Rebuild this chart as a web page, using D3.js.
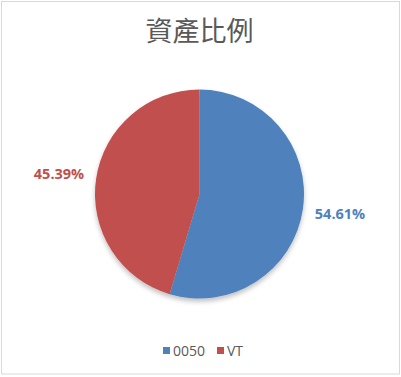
<!DOCTYPE html>
<html>
<head>
<meta charset="utf-8">
<script src="https://cdn.jsdelivr.net/npm/d3@7"></script>
<style>
  body { margin: 0; background: #fff; }
</style>
</head>
<body>
<div id="chart"></div>
<script>
// data
var categories = ["0050", "VT"];
var values = [54.61, 45.39];
var colors = ["#4F81BD", "#C0504D"];
var title = "資產比例";

var width = 401, height = 377;
var cx = 199.5, cy = 194, r = 104.5;

var svg = d3.select("#chart").append("svg")
  .attr("width", width)
  .attr("height", height);

// chart area border
svg.append("rect")
  .attr("x", 1.5).attr("y", 1.5)
  .attr("width", 398).attr("height", 372.5)
  .attr("fill", "#fff")
  .attr("stroke", "#d9d9d9");

// soft shadow like excel
var defs = svg.append("defs");
var f = defs.append("filter").attr("id", "shadow")
  .attr("x", "-20%").attr("y", "-20%").attr("width", "140%").attr("height", "140%");
f.append("feGaussianBlur").attr("in", "SourceAlpha").attr("stdDeviation", 2.5);
f.append("feOffset").attr("dx", 0).attr("dy", 2.5).attr("result", "blur");
f.append("feComponentTransfer").append("feFuncA").attr("type", "linear").attr("slope", 0.25);
var m = f.append("feMerge");
m.append("feMergeNode");
m.append("feMergeNode").attr("in", "SourceGraphic");

svg.append("text")
  .attr("x", 199.5).attr("y", 41)
  .attr("text-anchor", "middle")
  .attr("font-family", "'Noto Sans CJK TC', sans-serif")
  .attr("font-size", 27)
  .attr("fill", "#595959")
  .text(title);

var pie = d3.pie().sort(null).value(function(d){ return d; });
var arcs = pie(values);
var arc = d3.arc().innerRadius(0).outerRadius(r);
var labelArc = d3.arc().innerRadius(142).outerRadius(142);

var g = svg.append("g").attr("transform", "translate(" + cx + "," + cy + ")");

g.append("g").attr("filter", "url(#shadow)")
  .selectAll("path")
  .data(arcs)
  .enter()
  .append("path")
  .attr("d", arc)
  .attr("fill", function(d, i){ return colors[i]; });

g.selectAll("text.lbl")
  .data(arcs)
  .enter()
  .append("text")
  .attr("class", "lbl")
  .attr("transform", function(d){ var c = labelArc.centroid(d); return "translate(" + c[0] + "," + (c[1] + 5) + ")"; })
  .attr("text-anchor", "middle")
  .attr("font-family", "'Open Sans', sans-serif")
  .attr("font-weight", "bold")
  .attr("font-size", 14.5)
  .attr("fill", function(d, i){ return colors[i]; })
  .text(function(d){ return d.value.toFixed(2) + "%"; });

// legend
var legendX = [163, 217];
var leg = svg.append("g");
var items = leg.selectAll("g")
  .data(categories)
  .enter()
  .append("g")
  .attr("transform", function(d, i){ return "translate(" + legendX[i] + ",347)"; });
items.append("rect")
  .attr("width", 7).attr("height", 7)
  .attr("fill", function(d, i){ return colors[i]; });
items.append("text")
  .attr("x", 10).attr("y", 8.5)
  .attr("font-family", "'Open Sans', sans-serif")
  .attr("font-size", 14)
  .attr("fill", "#595959")
  .text(function(d){ return d; });
</script>
</body>
</html>
